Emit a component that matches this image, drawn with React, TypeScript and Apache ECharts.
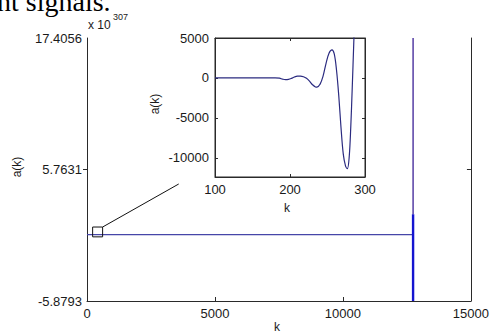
import React, { useEffect, useRef } from "react";
import * as echarts from "echarts";

// ---- main plot data (a(k) in units of 10^307) ----
const flatK = [0, 12720];
const flatA = [0, 0];
const spikeK = 12740;
const spikeLowA = [-5.8793, 1.8];
const spikeHighA = [1.8, 17.4056];
const mainYTicks = [-5.8793, 5.7631, 17.4056];
const mainXTicks = [0, 5000, 10000, 15000];

// zoom box and its link to the inset
const boxK = [220, 610];
const boxA = [-0.2, 0.67];
const linkK = [610, 3584];
const linkA = [0.67, 4.48];

// ---- inset data ----
const insetK = [100, 120, 140, 160, 180, 186, 190, 194, 198, 202, 206, 210, 214, 218, 222, 226, 230, 234, 236, 240, 244, 248, 252, 256, 259, 262, 265, 268, 271, 274, 276.5, 279, 281, 283, 285, 287, 290];
const insetA = [0, 0, 0, 0, 0, -30, -150, -220, -180, -50, 120, 220, 230, 150, -50, -400, -850, -1130, -1150, -800, 200, 1800, 3100, 3525, 3000, 1000, -2200, -6200, -9500, -11000, -11350, -9800, -6200, -1200, 4300, 10000, 20000];
const insetYTicks = [-10000, -5000, 0, 5000];

const AX = "#2a2a2a";
const FONT = "Liberation Sans, Arial, sans-serif";

export default function App() {
  const ref = useRef<HTMLDivElement>(null);
  useEffect(() => {
    if (!ref.current) return;
    const chart = echarts.init(ref.current, null, { renderer: "svg" });
    const lbl = { color: "#1a1a1a", fontFamily: FONT, fontSize: 13 };
    const fmt = (v: number) => String(v);
    const option: any = {
      animation: false,
      backgroundColor: "#fff",
      grid: [
        { left: 87, top: 38, right: 20, bottom: 34 },
        { left: 215, top: 38, width: 150, height: 139, show: true, backgroundColor: "#fff", borderColor: AX, borderWidth: 1, z: 5 },
      ],
      xAxis: [
        {
          gridIndex: 0, type: "value", min: 0, max: 15000, interval: 5000,
          axisLine: { show: true, onZero: false, lineStyle: { color: AX } },
          axisTick: { show: true, inside: true, length: 4, lineStyle: { color: AX } },
          axisLabel: { ...lbl, margin: 6, formatter: fmt, customValues: mainXTicks },
          splitLine: { show: false },
        },
        {
          gridIndex: 1, type: "value", min: 100, max: 300, interval: 100,
          axisLine: { show: true, onZero: false, lineStyle: { color: AX } },
          axisTick: { show: true, inside: true, length: 3, lineStyle: { color: AX } },
          axisLabel: { ...lbl, margin: 6, formatter: fmt },
          splitLine: { show: false },
          z: 6,
        },
        {
          gridIndex: 1, type: "value", min: 100, max: 300, interval: 100, position: "top",
          axisLine: { show: true, onZero: false, lineStyle: { color: AX } },
          axisTick: { show: true, inside: true, length: 3, lineStyle: { color: AX } },
          axisLabel: { show: false },
          splitLine: { show: false },
          z: 6,
        },
      ],
      yAxis: [
        {
          gridIndex: 0, type: "value", min: -5.8793, max: 17.4056,
          axisLine: { show: true, onZero: false, lineStyle: { color: AX } },
          axisTick: { show: true, inside: false, length: 4, lineStyle: { color: AX }, customValues: [5.7631] },
          axisLabel: { ...lbl, margin: 5, formatter: fmt, customValues: mainYTicks },
          splitLine: { show: false },
        },
        {
          gridIndex: 0, type: "value", min: -5.8793, max: 17.4056, position: "right",
          axisLine: { show: true, onZero: false, lineStyle: { color: AX } },
          axisTick: { show: true, inside: true, length: 4, lineStyle: { color: AX }, customValues: [5.7631] },
          axisLabel: { show: false },
          splitLine: { show: false },
        },
        {
          gridIndex: 1, type: "value", min: -12400, max: 5000,
          axisLine: { show: true, onZero: false, lineStyle: { color: AX } },
          axisTick: { show: true, inside: true, length: 3, lineStyle: { color: AX }, customValues: insetYTicks },
          axisLabel: { ...lbl, margin: 6, formatter: fmt, customValues: insetYTicks },
          splitLine: { show: false },
          z: 6,
        },
        {
          gridIndex: 1, type: "value", min: -12400, max: 5000, position: "right",
          axisLine: { show: true, onZero: false, lineStyle: { color: AX } },
          axisTick: { show: true, inside: true, length: 3, lineStyle: { color: AX }, customValues: insetYTicks },
          axisLabel: { show: false },
          splitLine: { show: false },
          z: 6,
        },
      ],
      series: [
        {
          type: "line", xAxisIndex: 0, yAxisIndex: 0, symbol: "none",
          data: flatK.map((k, i) => [k, flatA[i]]),
          lineStyle: { color: "#4646a8", width: 1.2 },
        },
        {
          type: "line", xAxisIndex: 0, yAxisIndex: 0, symbol: "none",
          data: spikeLowA.map((a) => [spikeK, a]),
          lineStyle: { color: "#1414d0", width: 2.4 },
        },
        {
          type: "line", xAxisIndex: 0, yAxisIndex: 0, symbol: "none",
          data: spikeHighA.map((a) => [spikeK, a]),
          lineStyle: { color: "#3a1f96", width: 1.3 },
        },
        {
          type: "line", xAxisIndex: 0, yAxisIndex: 0, symbol: "none",
          data: [
            [boxK[0], boxA[0]], [boxK[1], boxA[0]], [boxK[1], boxA[1]], [boxK[0], boxA[1]], [boxK[0], boxA[0]],
          ],
          lineStyle: { color: "#111", width: 1 },
        },
        {
          type: "line", xAxisIndex: 0, yAxisIndex: 0, symbol: "none",
          data: linkK.map((k, i) => [k, linkA[i]]),
          lineStyle: { color: "#111", width: 1 },
        },
        {
          type: "line", xAxisIndex: 1, yAxisIndex: 2, symbol: "none", smooth: 0.35,
          data: insetK.map((k, i) => [k, insetA[i]]),
          lineStyle: { color: "#2b2b80", width: 1.2 },
          z: 7,
          clip: true,
        },
      ],
      graphic: [
        { type: "text", x: -3, y: 1, style: { text: "nt signals.", fontFamily: "Liberation Serif, Times New Roman, serif", fontSize: 28, fill: "#000", textVerticalAlign: "middle" } },
        { type: "text", x: 88, y: 25, style: { text: "x 10", fontFamily: FONT, fontSize: 12, fill: "#1a1a1a", textVerticalAlign: "middle" } },
        { type: "text", x: 113, y: 17, style: { text: "307", fontFamily: FONT, fontSize: 9, fill: "#1a1a1a", textVerticalAlign: "middle" } },
        { type: "text", x: 17, y: 167, rotation: Math.PI / 2, style: { text: "a(k)", fontFamily: FONT, fontSize: 12, fill: "#1a1a1a", textAlign: "center", textVerticalAlign: "middle" } },
        { type: "text", x: 277, y: 327, style: { text: "k", fontFamily: FONT, fontSize: 12, fill: "#1a1a1a", textAlign: "center", textVerticalAlign: "middle" } },
        { type: "text", x: 155, y: 104, rotation: Math.PI / 2, style: { text: "a(k)", fontFamily: FONT, fontSize: 12, fill: "#1a1a1a", textAlign: "center", textVerticalAlign: "middle" } },
        { type: "text", x: 287, y: 208, style: { text: "k", fontFamily: FONT, fontSize: 12, fill: "#1a1a1a", textAlign: "center", textVerticalAlign: "middle" } },
      ],
    };
    chart.setOption(option);
    return () => chart.dispose();
  }, []);
  return (
    <div
      ref={ref}
      style={{ position: "fixed", left: 0, top: 0, width: 492, height: 335 }}
    />
  );
}
